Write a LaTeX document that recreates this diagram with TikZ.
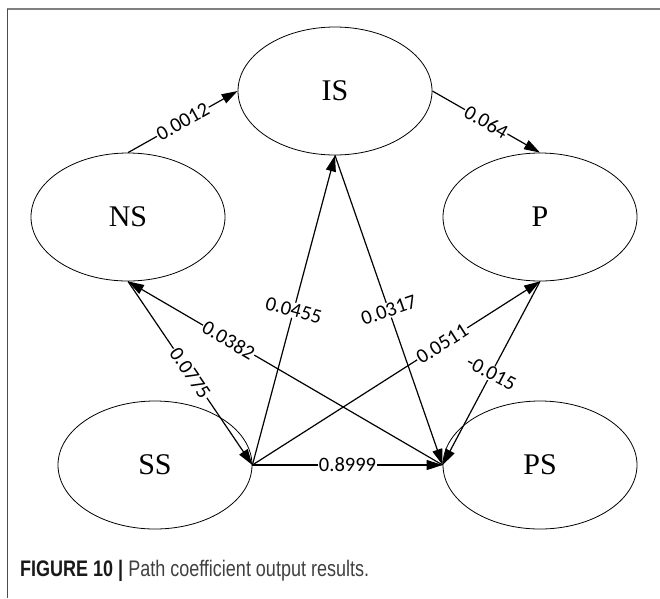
\documentclass[tikz,border=0pt]{standalone}
\usepackage{fontspec}
\setmainfont{Liberation Serif}
\newfontfamily\numfont{Carlito}
\newfontfamily\capfont[FakeStretch=0.8]{Liberation Sans}
\usetikzlibrary{arrows.meta, shapes.geometric, quotes}

\begin{document}
\begin{tikzpicture}[x=1pt, y=-1pt,
  v/.style = {draw, ellipse, minimum width=194pt, minimum height=128pt, inner sep=0pt, line width=0.8pt, font=\fontsize{30}{30}\selectfont},
  arr/.style = {line width=1.2pt, -{Triangle[length=16pt, width=10pt]}},
  every edge quotes/.style = {fill=white, inner sep=1pt, anchor=center, font=\numfont\fontsize{20.5}{20.5}\selectfont}]
  \useasboundingbox (0,0) rectangle (660,598);

  % frame
  \draw[black!50, line width=1.8pt] (7,9) -- (660,9);
  \draw[black!70, line width=1pt] (7,9) -- (7,598);

  % constructs
  \node[v] (IS) at (335,91) {IS};
  \node[v] (NS) at (128,217) {NS};
  \node[v] (P)  at (540,217) {P};
  \node[v] (SS) at (155,465) {SS};
  \node[v] (PS) at (540,465) {PS};

  % paths
  \draw[arr] (NS.north) to ["0.0012" sloped] (IS.west);
  \draw[arr] (IS.east) to ["0.064" sloped] (P.north);
  \draw[arr] (SS.east) to ["0.0455" rotate=-15] (IS.south);
  \draw[arr] (IS.south) to ["0.0317" rotate=19] (PS.west);
  \draw[arr] (NS.south) to ["0.0775" sloped] (SS.east);
  \draw[arr] (PS.west) to ["0.0382" {sloped, pos=0.68}] (NS.south);
  \draw[arr] (SS.east) to ["0.0511" {sloped, pos=0.66}] (P.south);
  \draw[arr] (P.south) to ["-0.015" rotate=-28] (PS.west);
  \draw[arr] (SS.east) to ["0.8999"] (PS.west);

  % caption
  \node[anchor=base west, inner sep=0pt, font=\capfont\fontsize{22.5}{22.5}\selectfont] (cap) at (20,576)
    {\textcolor{black!90}{\textbf{FIGURE 10 |}} \textcolor{black!75}{Path coefficient output results.}};
\end{tikzpicture}
\end{document}
